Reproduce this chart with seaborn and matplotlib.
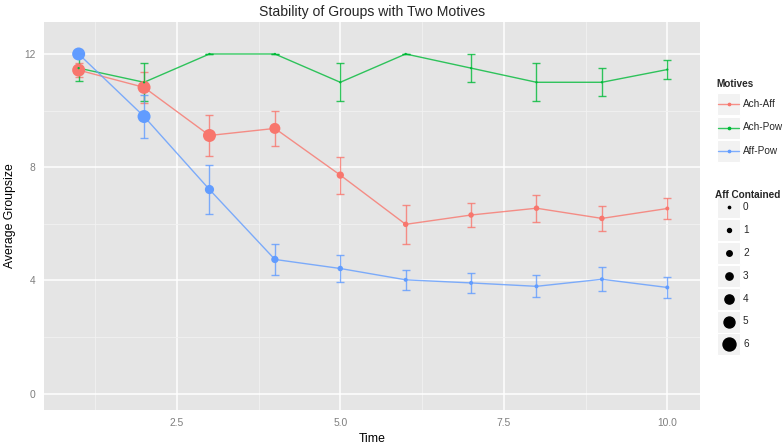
import numpy as np
import pandas as pd
import matplotlib
matplotlib.use("Agg")
import matplotlib.pyplot as plt
from matplotlib.patches import Rectangle
from matplotlib.lines import Line2D
import seaborn as sns

# ---------------- data ----------------
time = [1, 2, 3, 4, 5, 6, 7, 8, 9, 10]
motives = ["Ach-Aff", "Ach-Pow", "Aff-Pow"]

ach_aff_mean = [11.43, 10.82, 9.12, 9.37, 7.72, 5.98, 6.31, 6.55, 6.19, 6.54]
ach_aff_se = [0.25, 0.55, 0.71, 0.63, 0.65, 0.70, 0.42, 0.47, 0.43, 0.36]
ach_aff_aff = [6, 6, 6, 5, 3, 2, 2, 2, 2, 1]

ach_pow_mean = [11.5, 11.0, 12.0, 12.0, 11.0, 12.0, 11.5, 11.0, 11.0, 11.45]
ach_pow_se = [0.45, 0.67, 0.0, 0.0, 0.67, 0.0, 0.5, 0.67, 0.5, 0.35]
ach_pow_aff = [0, 0, 0, 0, 0, 0, 0, 0, 0, 0]

aff_pow_mean = [12.0, 9.79, 7.21, 4.74, 4.42, 4.02, 3.91, 3.79, 4.04, 3.75]
aff_pow_se = [0.0, 0.75, 0.85, 0.55, 0.48, 0.35, 0.36, 0.39, 0.43, 0.36]
aff_pow_aff = [6, 6, 4, 3, 2, 1, 1, 1, 1, 1]

aff_levels = [0, 1, 2, 3, 4, 5, 6]

df = pd.DataFrame({
    "Time": time * 3,
    "Motives": sum([[m] * len(time) for m in motives], []),
    "Groupsize": ach_aff_mean + ach_pow_mean + aff_pow_mean,
    "se": ach_aff_se + ach_pow_se + aff_pow_se,
    "Aff": ach_aff_aff + ach_pow_aff + aff_pow_aff,
})

# ---------------- style ----------------
palette = {"Ach-Aff": "#F8766D", "Ach-Pow": "#00BA38", "Aff-Pow": "#619CFF"}
diam_px = {0: 2.3, 1: 4.0, 2: 5.5, 3: 7.3, 4: 9.2, 5: 11.0, 6: 13.0}
size_map = {k: (v * 0.72) ** 2 for k, v in diam_px.items()}

sns.set_theme(style="darkgrid")
plt.rcParams["font.family"] = ["Liberation Sans", "DejaVu Sans"]

W, H = 783, 445
fig = plt.figure(figsize=(W / 100, H / 100), dpi=100)
ax = fig.add_axes([44 / W, (H - 410) / H, (700 - 44) / W, (410 - 22) / H])
ax.set_facecolor("#E5E5E5")

# lines
sns.lineplot(data=df, x="Time", y="Groupsize", hue="Motives", palette=palette,
             hue_order=motives, linewidth=1.0, alpha=0.8, legend=False, ax=ax,
             zorder=3, errorbar=None)
# error bars
for m in motives:
    sub = df[df["Motives"] == m]
    ax.errorbar(sub["Time"], sub["Groupsize"], yerr=sub["se"], fmt="none",
                ecolor=palette[m], elinewidth=1.0, capsize=2.6, capthick=1.0,
                alpha=0.8, zorder=4)
# points
sns.scatterplot(data=df, x="Time", y="Groupsize", hue="Motives", size="Aff",
                palette=palette, hue_order=motives, sizes=size_map,
                size_order=aff_levels, linewidth=0, legend=False, ax=ax,
                zorder=5)

# axes
ax.set_xlim(0.47, 10.5)
ax.set_ylim(-0.58, 13.13)
ax.set_xticks([2.5, 5.0, 7.5, 10.0])
ax.set_xticklabels(["2.5", "5.0", "7.5", "10.0"])
ax.set_yticks([0, 4, 8, 12])
ax.set_yticklabels(["0", "4", "8", "12"])
ax.set_xticks([1.25, 3.75, 6.25, 8.75], minor=True)
ax.set_yticks([2, 6, 10], minor=True)
ax.grid(which="major", color="white", linewidth=1.1)
ax.grid(which="minor", color="#F2F2F2", linewidth=0.6)
ax.set_axisbelow(True)
for s in ax.spines.values():
    s.set_visible(False)
ax.tick_params(axis="both", which="major", length=3.5, width=0.8,
               color="#7F7F7F", labelcolor="#7F7F7F", labelsize=7.4, pad=2.5)
ax.tick_params(axis="both", which="minor", length=0)
ax.set_xlabel("Time", fontsize=8.8, color="black", labelpad=3)
ax.set_ylabel("Average Groupsize", fontsize=8.8, color="black", labelpad=6)
ax.set_title("Stability of Groups with Two Motives", fontsize=10.1, pad=4)

# ---------------- legend (ggplot-like) ----------------
def fx(px):
    return px / W

def fy(py):
    return (H - py) / H

key_l, key_r = 717, 740
fs_leg = 7.2
fig.text(fx(716), fy(84), "Motives", fontsize=fs_leg, fontweight="bold",
         va="center", ha="left")
for i, m in enumerate(motives):
    cy = 104 + i * 23.5
    fig.add_artist(Rectangle((fx(key_l), fy(cy + 11)), fx(key_r - key_l), (22) / H,
                             facecolor="#F2F2F2", edgecolor="white", lw=0.8))
    fig.add_artist(Line2D([fx(key_l + 1), fx(key_r - 1)], [fy(cy), fy(cy)],
                          color=palette[m], lw=1.0, alpha=0.8))
    fig.add_artist(Line2D([fx((key_l + key_r) / 2)], [fy(cy)], marker="o",
                          markersize=2.3 * 0.72, color=palette[m], lw=0))
    fig.text(fx(743), fy(cy), m, fontsize=fs_leg, va="center", ha="left")

fig.text(fx(715), fy(195), "Aff Contained", fontsize=fs_leg, fontweight="bold",
         va="center", ha="left")
for i, lv in enumerate(aff_levels):
    cy = 207 + i * 22.9
    fig.add_artist(Rectangle((fx(key_l), fy(cy + 11)), fx(key_r - key_l), (22) / H,
                             facecolor="#F2F2F2", edgecolor="white", lw=0.8))
    fig.add_artist(Line2D([fx((key_l + key_r) / 2)], [fy(cy)], marker="o",
                          markersize=diam_px[lv] * 0.72, color="black", lw=0))
    fig.text(fx(743), fy(cy), str(lv), fontsize=fs_leg, va="center", ha="left")

fig.savefig("out.png", dpi=100, facecolor="white")
